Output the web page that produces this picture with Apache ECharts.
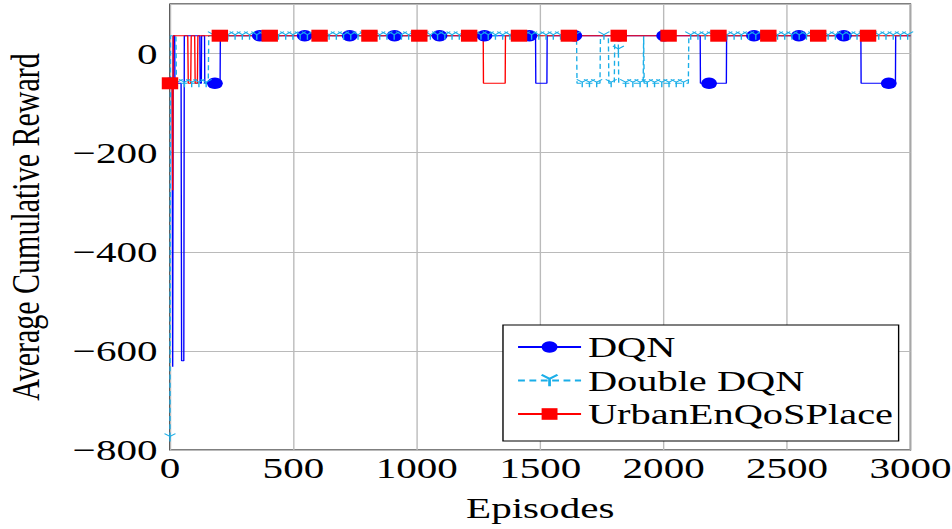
<!DOCTYPE html>
<html>
<head>
<meta charset="utf-8">
<script src="https://cdn.jsdelivr.net/npm/echarts@6/dist/echarts.min.js"></script>
<style>
  html, body { margin: 0; padding: 0; background: #fff; overflow: hidden; }
  /* the figure is laid out narrow and widened horizontally, like the exported plot */
  #chart { width: 695px; height: 529px; transform: scaleX(1.36978); transform-origin: 0 0; }
</style>
</head>
<body>
<div id="chart"></div>
<script>
// ---- data: breakpoints of each reward curve (episode, average cumulative reward) ----
const dqnEpisodes = [0, 9, 11, 13, 19, 20, 45, 47, 56, 58, 121, 122, 127, 128, 140, 141, 203, 204,
                     1481, 1482, 1527, 1528, 2148, 2149, 2254, 2255, 2799, 2800, 2939, 2940, 3000];
const dqnReward   = [-60, -60, -632, 36, 36, -60, -60, -620, -620, 36, 36, -60, -60, 36, 36, -60, -60, 36,
                     36, -60, -60, 36, 36, -60, -60, 36, 36, -60, -60, 36, 36];

const ddqnEpisodes = [0, 2, 24, 26, 155, 157, 1647, 1649, 1742, 1744, 1776, 1778, 1800, 1802,
                      1816, 1818, 1917, 1919, 1921, 2100, 2102, 3000];
const ddqnReward   = [-775, 36, 36, -60, -60, 36, 36, -60, -60, 36, 36, -60, -60, 36,
                      36, -60, -60, 36, -60, -60, 36, 36];

const urbanEpisodes = [0, 9, 11, 13, 72, 74, 84, 86, 100, 102, 111, 113, 1269, 1270, 1358, 1359, 3000];
const urbanReward   = [-60, -60, -276, 36, 36, -60, -60, 36, 36, -60, -60, 36, 36, -60, -60, 36, 36];

// marker spacing along the episode axis for each curve
const dqnMarkEvery = 182;
const ddqnMarkEvery = 29.3;
const urbanMarkEvery = 202;

const seriesNames = ['DQN', 'Double DQN', 'UrbanEnQoSPlace'];
const xTicks = { min: 0, max: 3000, step: 500 };
const yTicks = { min: -800, max: 100, step: 200 };

// ---- helpers ----
const FONT = '"Liberation Serif", "Times New Roman", serif';

// reward of a curve at a given episode, read along its drawn segments
function valueAt(eps, vals, e) {
  for (let i = 0; i < eps.length - 1; i++) {
    if (e >= eps[i] && e <= eps[i + 1]) {
      const span = eps[i + 1] - eps[i];
      const t = span === 0 ? 0 : (e - eps[i]) / span;
      return vals[i] + t * (vals[i + 1] - vals[i]);
    }
  }
  return vals[vals.length - 1];
}

// breakpoints without symbols, plus marked points placed on the curve
function buildData(eps, vals, every) {
  const pts = eps.map((e, i) => ({ value: [e, vals[i]], symbol: 'none' }));
  const last = eps[eps.length - 1];
  for (let k = 0; k * every <= last; k++) {
    const e = k * every;
    pts.push({ value: [e, valueAt(eps, vals, e)] });
  }
  pts.sort((a, b) => a.value[0] - b.value[0]);
  return pts;
}

const BLUE = '#0000ff';
const CYAN = '#1aaee8';
const RED = '#ff0000';
const GRID = '#bababa';

const chart = echarts.init(document.getElementById('chart'), null, { renderer: 'svg' });

chart.setOption({
  animation: false,
  backgroundColor: '#fff',
  grid: {
    left: 124.1, right: 30.3, top: 4, bottom: 79,
    show: true, borderColor: '#000', borderWidth: 1, backgroundColor: 'transparent',
    containLabel: false, outerBoundsMode: 'none'
  },
  xAxis: {
    type: 'value',
    min: xTicks.min, max: xTicks.max, interval: xTicks.step,
    axisLine: { show: false },
    axisTick: { show: false },
    splitLine: { show: true, lineStyle: { color: GRID, width: 1 } },
    axisLabel: { fontFamily: FONT, fontSize: 30, color: '#000', margin: 3, formatter: v => String(v) },
    name: 'Episodes', nameLocation: 'middle', nameGap: 43,
    nameTextStyle: { fontFamily: FONT, fontSize: 30, color: '#000' }
  },
  yAxis: {
    type: 'value',
    min: yTicks.min, max: yTicks.max, interval: yTicks.step,
    axisLine: { show: false },
    axisTick: { show: false },
    splitLine: { show: true, lineStyle: { color: GRID, width: 1 } },
    axisLabel: {
      fontFamily: FONT, fontSize: 30, color: '#000', margin: 9,
      formatter: v => (v > 0 ? '' : (v < 0 ? '\u2212' + Math.abs(v) : '0'))
    },
    name: 'Average Cumulative Reward', nameLocation: 'middle', nameRotate: 90, nameGap: 91,
    nameTextStyle: { fontFamily: FONT, fontSize: 30, color: '#000' }
  },
  legend: {
    orient: 'vertical',
    left: 367.2, top: 325,
    padding: [7, 4, 12, 10],
    itemWidth: 46, itemHeight: 14.5, itemGap: 3.5,
    backgroundColor: '#fff', borderColor: '#000', borderWidth: 1, borderRadius: 0,
    textStyle: { fontFamily: FONT, fontSize: 29.5, color: '#000', lineHeight: 30 },
    data: seriesNames
  },
  series: [
    {
      name: seriesNames[0], type: 'line',
      data: buildData(dqnEpisodes, dqnReward, dqnMarkEvery),
      symbol: 'circle', symbolSize: 11.5,
      lineStyle: { color: BLUE, width: 1 },
      itemStyle: { color: BLUE },
      emphasis: { disabled: true }, silent: true
    },
    {
      name: seriesNames[1], type: 'line',
      data: buildData(ddqnEpisodes, ddqnReward, ddqnMarkEvery),
      symbol: 'path://M0,0 L10,6 L20,0 M10,6 L10,17', symbolSize: [8, 8],
      lineStyle: { color: CYAN, width: 1, type: [5, 3.3] },
      itemStyle: { color: 'none', borderColor: CYAN, borderWidth: 1 },
      emphasis: { disabled: true }, silent: true
    },
    {
      name: seriesNames[2], type: 'line',
      data: buildData(urbanEpisodes, urbanReward, urbanMarkEvery),
      symbol: 'rect', symbolSize: 12,
      lineStyle: { color: RED, width: 1 },
      itemStyle: { color: RED },
      emphasis: { disabled: true }, silent: true
    }
  ]
});
</script>
</body>
</html>
